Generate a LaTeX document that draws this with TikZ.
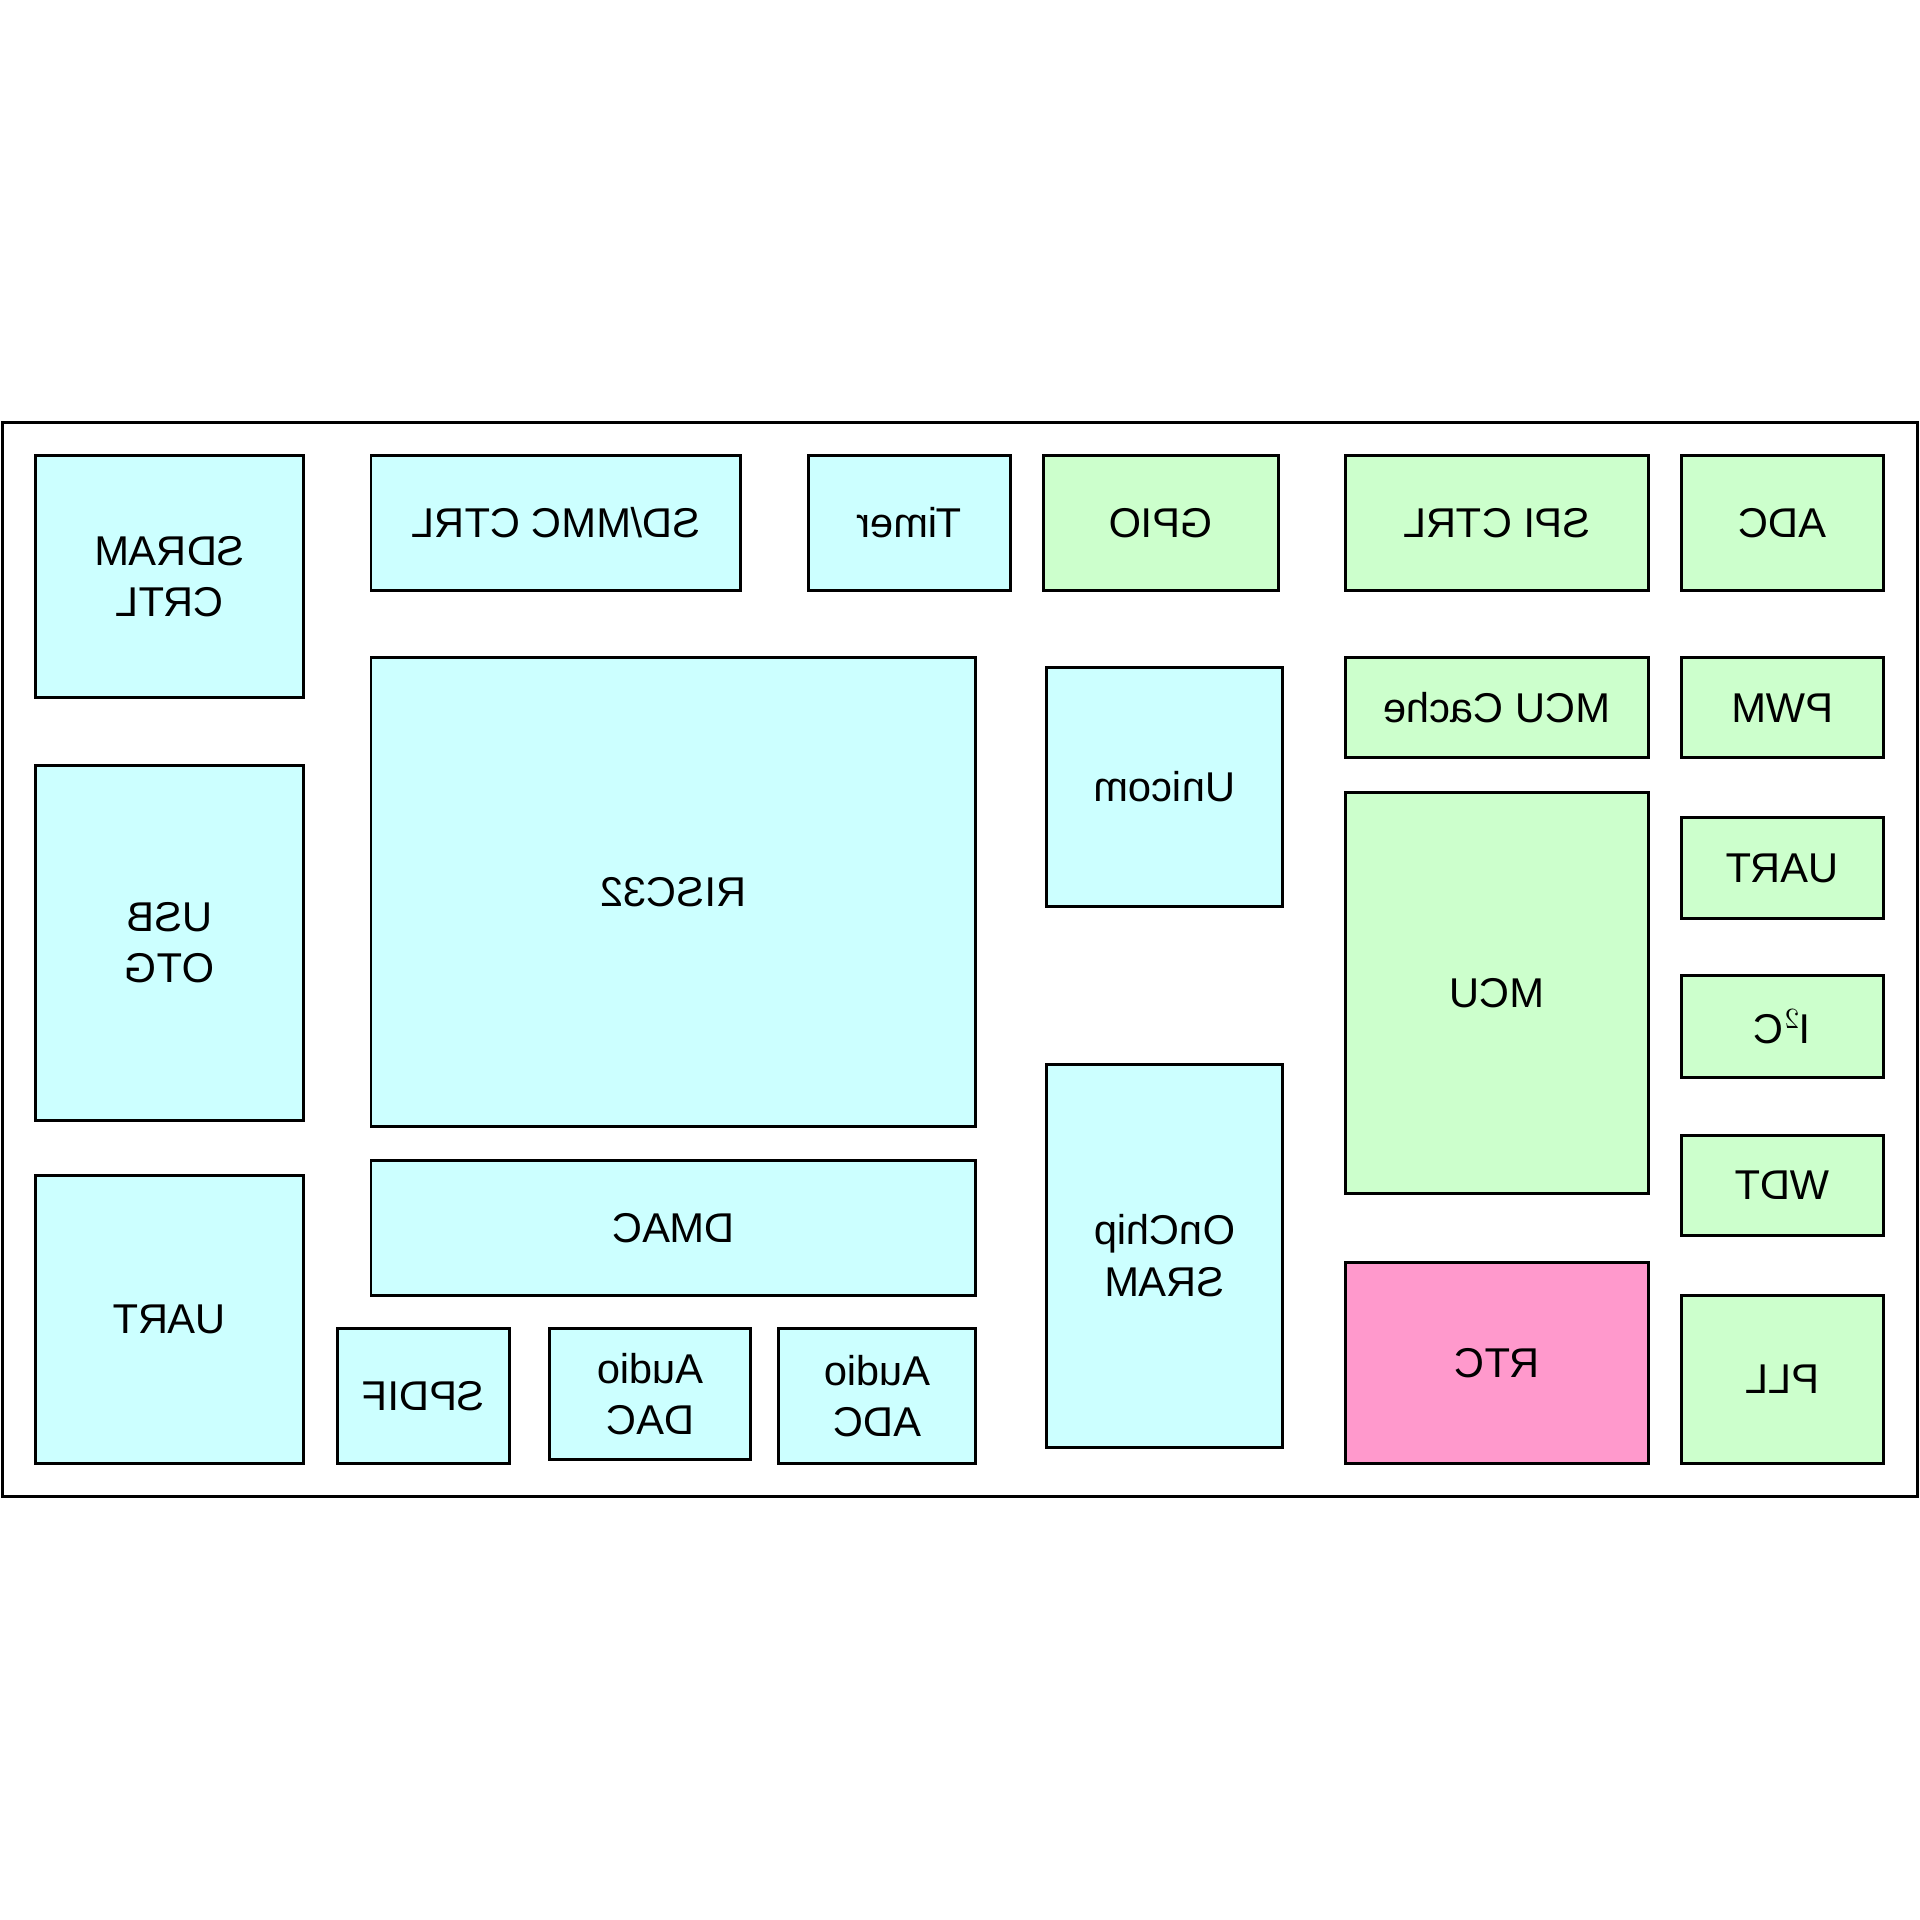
\documentclass[tikz,border=0pt]{standalone}
\usepackage{fontspec}
\setmainfont{Liberation Sans}
\definecolor{cyanblk}{HTML}{CCFFFF}
\definecolor{greenblk}{HTML}{CCFFCC}
\definecolor{pinkblk}{HTML}{FF99CC}
\tikzset{every picture/.style={line width=1.2pt}}
\tikzset{blk/.style={draw=black},
	lbl/.style={xscale=-1,align=center,font=\fontsize{17}{21}\selectfont}}
% block: name, x1, y1, x2, y2, colour, text
\newcommand{\blk}[7]{%
	\draw[blk,fill=#6] (#2,#3) rectangle (#4,#5);
	\node[lbl] (#1) at ({(#2+#4)/2},{(#3+#5)/2}) {#7};}

\begin{document}
\begin{tikzpicture}[x=0.5pt,y=0.5pt,yscale=-1]
	\useasboundingbox (0,0) rectangle (1568,1568);
	
	% die outline
	\draw (2,345) rectangle (1566,1222);
	
	% left column
	\blk{sdram}{29}{372}{248}{570}{cyanblk}{SDRAM\\CRTL}
	\blk{usb}{29}{625}{248}{915}{cyanblk}{USB\\OTG}
	\blk{uartl}{29}{960}{248}{1195}{cyanblk}{UART}
	
	% core area
	\blk{sdmmc}{303}{372}{605}{482}{cyanblk}{SD/MMC CTRL}
	\blk{timer}{660}{372}{825}{482}{cyanblk}{Timer}
	\blk{risc}{303}{537}{797}{920}{cyanblk}{RISC32}
	\blk{dmac}{303}{948}{797}{1058}{cyanblk}{DMAC}
	\blk{spdif}{276}{1085}{416}{1195}{cyanblk}{SPDIF}
	\blk{adac}{449}{1085}{613}{1192}{cyanblk}{Audio\\DAC}
	\blk{aadc}{636}{1085}{797}{1195}{cyanblk}{Audio\\ADC}
	\blk{unicom}{855}{545}{1047}{740}{cyanblk}{Unicom}
	\blk{sram}{855}{869}{1047}{1182}{cyanblk}{OnChip\\SRAM}
	
	% MCU side
	\blk{gpio}{852}{372}{1044}{482}{greenblk}{GPIO}
	\blk{spi}{1099}{372}{1346}{482}{greenblk}{SPI CTRL}
	\blk{cache}{1099}{537}{1346}{619}{greenblk}{MCU Cache}
	\blk{mcu}{1099}{647}{1346}{975}{greenblk}{MCU}
	\blk{rtc}{1099}{1031}{1346}{1195}{pinkblk}{RTC}
	
	% peripherals
	\blk{adc}{1373}{372}{1538}{482}{greenblk}{ADC}
	\blk{pwm}{1373}{537}{1538}{619}{greenblk}{PWM}
	\blk{uartr}{1373}{668}{1538}{750}{greenblk}{UART}
	\blk{iic}{1373}{797}{1538}{880}{greenblk}{I$^2$C}
	\blk{wdt}{1373}{927}{1538}{1009}{greenblk}{WDT}
	\blk{pll}{1373}{1058}{1538}{1195}{greenblk}{PLL}
\end{tikzpicture}
\end{document}
